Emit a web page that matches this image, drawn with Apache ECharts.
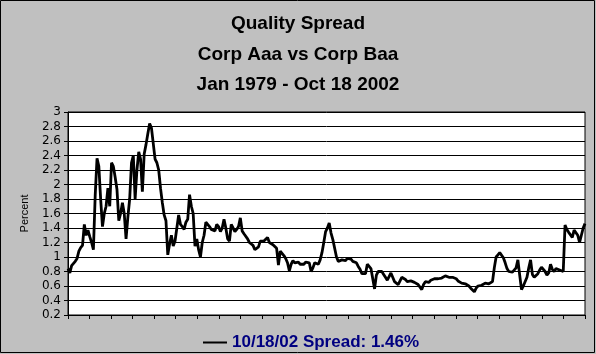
<!DOCTYPE html>
<html>
<head>
<meta charset="utf-8">
<script src="https://cdn.jsdelivr.net/npm/echarts@6/dist/echarts.min.js"></script>
<style>
  html, body { margin: 0; padding: 0; background: #c0c0c0; }
  #chart { width: 596px; height: 354px; }
</style>
</head>
<body>
<div id="chart"></div>
<script>
// Monthly spread (Corp Baa - Corp Aaa, percent), Jan 1979 .. Oct 2002
const y1979 = [0.84,0.78,0.88,0.89,0.94,0.98,1.08,1.13,1.16,1.45,1.3,1.37];
const y1980 = [1.28,1.2,1.1,1.85,2.36,2.25,1.8,1.42,1.6,1.7,1.95,1.7];
const y1981 = [2.3,2.25,2.1,1.93,1.5,1.6,1.75,1.6,1.25,1.55,1.8,2.3];
const y1982 = [2.4,1.8,2.2,2.45,2.35,1.9,2.42,2.55,2.7,2.84,2.78,2.8];
const y1983 = [2.35,2.3,2.2,1.95,1.75,1.58,1.5,1.03,1.18,1.3,1.15,1.22];
const y1984 = [1.4,1.58,1.45,1.42,1.38,1.48,1.52,1.86,1.7,1.6,1.15,1.25];
const y1985 = [1.1,1.0,1.2,1.3,1.48,1.5,1.42,1.38,1.4,1.36,1.45,1.42];
const y1986 = [1.35,1.4,1.52,1.4,1.25,1.22,1.45,1.4,1.35,1.38,1.42,1.54];
const y1987 = [1.36,1.32,1.3,1.25,1.2,1.18,1.16,1.1,1.08,1.14,1.22,1.2];
const y1988 = [1.22,1.2,1.27,1.2,1.18,1.17,1.17,1.12,0.89,1.08,1.05,1.02];
const y1989 = [0.98,0.92,0.81,0.9,0.95,0.92,0.9,0.93,0.9,0.92,0.9,0.93];
const y1990 = [0.95,0.92,0.8,0.85,0.92,0.91,0.9,0.96,1.06,1.2,1.35,1.4];
const y1991 = [1.47,1.33,1.24,1.12,1.0,0.94,0.92,0.96,0.97,0.95,0.98,1.0];
const y1992 = [0.97,0.94,0.93,0.92,0.87,0.83,0.77,0.76,0.77,0.9,0.87,0.84];
const y1993 = [0.7,0.56,0.75,0.8,0.82,0.8,0.76,0.72,0.68,0.73,0.78,0.72];
const y1994 = [0.66,0.64,0.62,0.64,0.72,0.71,0.69,0.66,0.64,0.67,0.68,0.65];
const y1995 = [0.64,0.62,0.6,0.55,0.62,0.66,0.64,0.65,0.68,0.69,0.7,0.71];
const y1996 = [0.7,0.69,0.71,0.73,0.74,0.73,0.72,0.73,0.72,0.71,0.7,0.67];
const y1997 = [0.65,0.64,0.63,0.63,0.62,0.6,0.57,0.55,0.52,0.57,0.6,0.6];
const y1998 = [0.61,0.63,0.64,0.63,0.63,0.62,0.66,0.85,1.0,1.03,1.06,1.04];
const y1999 = [0.99,0.92,0.84,0.8,0.79,0.79,0.8,0.85,0.96,0.75,0.55,0.6];
const y2000 = [0.62,0.72,0.85,0.96,0.76,0.72,0.73,0.77,0.82,0.86,0.88,0.8];
const y2001 = [0.75,0.78,0.9,0.83,0.8,0.84,0.85,0.82,0.83,0.8,1.44,1.38];
const y2002 = [1.34,1.36,1.27,1.37,1.36,1.3,1.2,1.3,1.4,1.46];

const titleLines = ['Quality Spread', 'Corp Aaa vs Corp Baa', 'Jan 1979 - Oct 18 2002'];
const seriesName = '10/18/02 Spread: 1.46%';
const yAxisName = 'Percent';

const spread = [].concat(y1979,y1980,y1981,y1982,y1983,y1984,y1985,y1986,y1987,y1988,
  y1989,y1990,y1991,y1992,y1993,y1994,y1995,y1996,y1997,y1998,y1999,y2000,y2001,y2002);
const lastIndex = spread.length - 1;
const data = spread.map((v, i) => [i, v]);

const chart = echarts.init(document.getElementById('chart'), null, { renderer: 'canvas' });
chart.setOption({
  backgroundColor: '#c0c0c0',
  animation: false,
  title: {
    text: titleLines.join('\n'),
    left: 'center',
    top: 4,
    textStyle: { fontFamily: 'Liberation Sans, Arial, sans-serif', fontWeight: 'bold', fontSize: 19, lineHeight: 30.5, color: '#000' }
  },
  grid: { left: 68, right: 11, top: 112, bottom: 39, show: true, backgroundColor: '#fff', borderColor: '#000', borderWidth: 1 },
  xAxis: {
    type: 'value', min: 0, max: lastIndex, interval: lastIndex / 24,
    axisLine: { show: true, lineStyle: { color: '#000', width: 1 } },
    axisTick: { show: true, length: 4, lineStyle: { color: '#000' } },
    axisLabel: { show: false },
    splitLine: { show: false }
  },
  yAxis: {
    type: 'value', min: 0.2, max: 3, interval: 0.2,
    name: yAxisName, nameLocation: 'middle', nameGap: 38,
    nameTextStyle: { fontFamily: 'Liberation Sans, Arial, sans-serif', fontSize: 11, color: '#000' },
    axisLine: { show: true, lineStyle: { color: '#000', width: 1 } },
    axisTick: { show: true, length: 4, lineStyle: { color: '#000' } },
    axisLabel: { margin: 7, fontFamily: 'DejaVu Sans, sans-serif', fontSize: 12, color: '#000',
      formatter: v => String(+v.toFixed(1)) },
    splitLine: { show: true, lineStyle: { color: '#000', width: 1 } }
  },
  legend: {
    show: true, left: 198, top: 329, icon: 'rect', itemWidth: 24, itemHeight: 2,
    itemStyle: { color: '#000' },
    textStyle: { fontFamily: 'Liberation Sans, Arial, sans-serif', fontWeight: 'bold', fontSize: 17, color: '#000080' },
    data: [seriesName]
  },
  series: [{
    type: 'line', name: seriesName, data: data, symbol: 'none',
    lineStyle: { color: '#000', width: 2.8 }, itemStyle: { color: '#000' }
  }],
  graphic: [{
    type: 'rect', silent: true,
    shape: { x: 0.5, y: 0.5, width: 594, height: 352 },
    style: { fill: 'none', stroke: '#000', lineWidth: 1 }
  }]
});
</script>
</body>
</html>
